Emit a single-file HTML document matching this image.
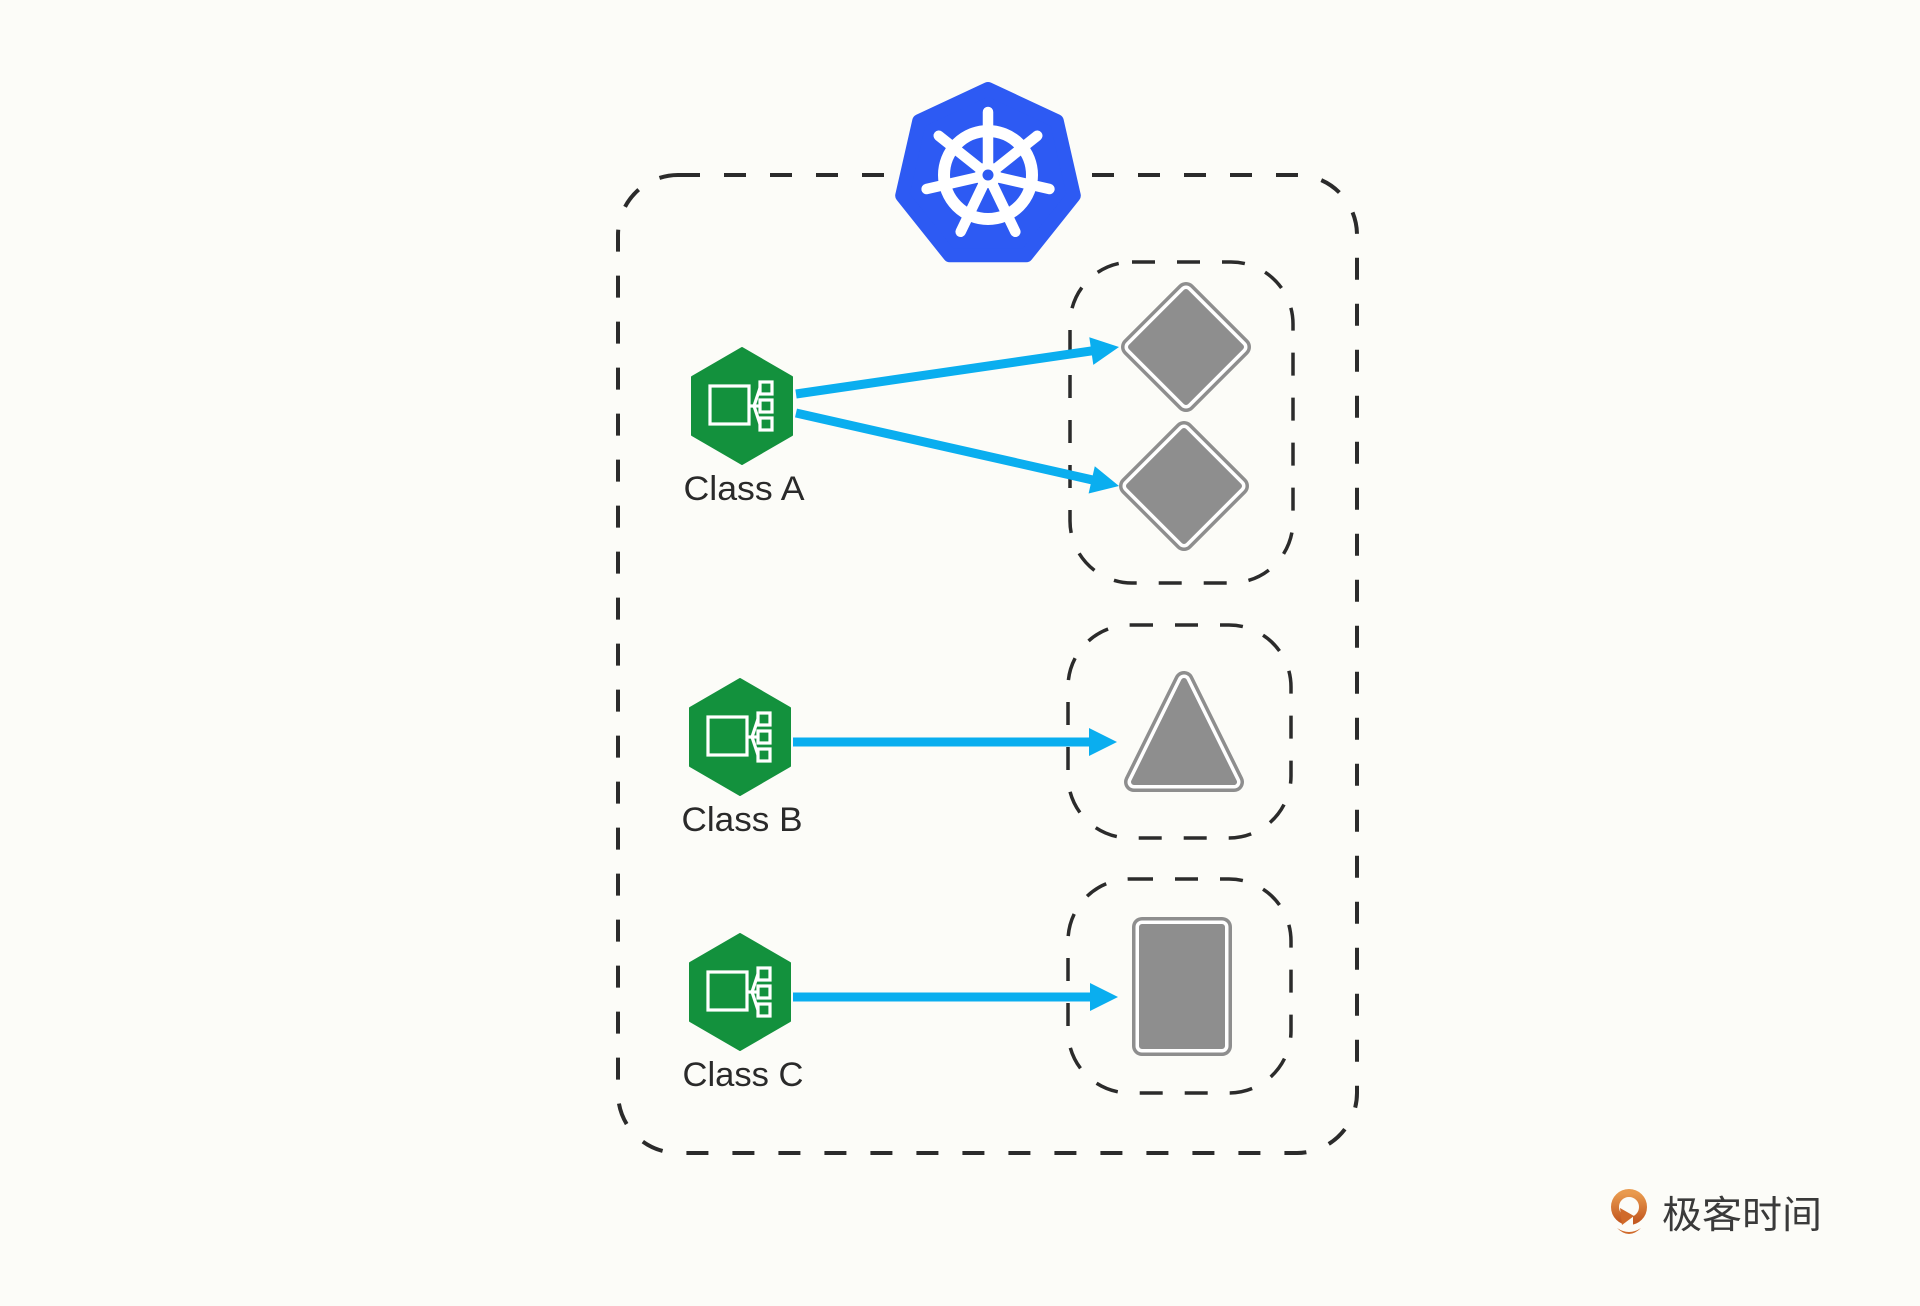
<!DOCTYPE html>
<html>
<head>
<meta charset="utf-8">
<style>
  html,body{margin:0;padding:0;background:#fcfcf8;}
  svg{display:block;}
</style>
</head>
<body>
<svg width="1920" height="1306" viewBox="0 0 1920 1306" xmlns="http://www.w3.org/2000/svg">
  <defs>
    <linearGradient id="og" x1="0" y1="0" x2="0" y2="1">
      <stop offset="0" stop-color="#e99a4e"/>
      <stop offset="1" stop-color="#c45a22"/>
    </linearGradient>
    <g id="hexicon">
      <polygon points="0,-58 50,-29 50,29 0,58 -50,29 -50,-29" fill="#13913d" stroke="#13913d" stroke-width="2" stroke-linejoin="round"/>
      <g fill="none" stroke="#ffffff" stroke-width="3.2">
        <rect x="-32" y="-20" width="39" height="38"/>
        <rect x="18" y="-24" width="12" height="12"/>
        <rect x="18" y="-6" width="12" height="12"/>
        <rect x="18" y="12" width="12" height="12"/>
        <polyline points="7,0 12,0 18,-18"/>
        <line x1="12" y1="0" x2="18" y2="0"/>
        <polyline points="12,0 18,18"/>
      </g>
    </g>
  </defs>
  <rect width="1920" height="1306" fill="#fcfcf8"/>

  <!-- outer dashed box -->
  <rect x="618" y="175" width="739" height="978" rx="60" ry="60" fill="none" stroke="#2b2b2b" stroke-width="4" stroke-dasharray="22 24"/>

  <!-- inner dashed boxes -->
  <rect x="1070" y="262" width="223" height="321" rx="62" ry="62" fill="none" stroke="#2b2b2b" stroke-width="3.5" stroke-dasharray="23 22"/>
  <rect x="1068" y="625" width="223" height="213" rx="62" ry="62" fill="none" stroke="#2b2b2b" stroke-width="3.5" stroke-dasharray="23 22"/>
  <rect x="1068" y="879" width="223" height="214" rx="62" ry="62" fill="none" stroke="#2b2b2b" stroke-width="3.5" stroke-dasharray="23 22"/>

  <!-- Kubernetes logo -->
  <polygon points="988,89 1056.8,121.1 1073.8,195.6 1026.2,255.3 949.8,255.3 902.2,195.6 919.2,121.1" fill="#2d5af3" stroke="#2d5af3" stroke-width="14" stroke-linejoin="round"/>
  <g transform="translate(988,175)">
    <circle cx="0" cy="0" r="44" fill="none" stroke="#ffffff" stroke-width="12"/>
    <g stroke="#ffffff" stroke-width="10.5" stroke-linecap="round">
      <line x1="0" y1="-8" x2="0" y2="-63" transform="rotate(0)"/>
      <line x1="0" y1="-8" x2="0" y2="-63" transform="rotate(51.43)"/>
      <line x1="0" y1="-8" x2="0" y2="-63" transform="rotate(102.86)"/>
      <line x1="0" y1="-8" x2="0" y2="-63" transform="rotate(154.29)"/>
      <line x1="0" y1="-8" x2="0" y2="-63" transform="rotate(205.71)"/>
      <line x1="0" y1="-8" x2="0" y2="-63" transform="rotate(257.14)"/>
      <line x1="0" y1="-8" x2="0" y2="-63" transform="rotate(308.57)"/>
    </g>
    <circle cx="0" cy="0" r="13" fill="#ffffff"/>
    <circle cx="0" cy="0" r="5.5" fill="#2d5af3"/>
  </g>

  <!-- Green hexagon icons -->
  <use href="#hexicon" transform="translate(742,406)"/>
  <use href="#hexicon" transform="translate(740,737)"/>
  <use href="#hexicon" transform="translate(740,992)"/>

  <!-- Labels -->
  <g font-family="Liberation Sans, Arial, sans-serif" font-size="34" fill="#2a2a2a" text-anchor="middle">
    <text x="744" y="500" textLength="121" lengthAdjust="spacingAndGlyphs">Class A</text>
    <text x="742" y="831" textLength="121" lengthAdjust="spacingAndGlyphs">Class B</text>
    <text x="743" y="1086" textLength="121" lengthAdjust="spacingAndGlyphs">Class C</text>
  </g>

  <!-- Arrows -->
  <g stroke="#0aaeef" stroke-width="9" stroke-linecap="butt">
    <line x1="796" y1="394" x2="1094" y2="350.6"/>
    <line x1="796" y1="413" x2="1094" y2="480.3"/>
    <line x1="793" y1="742" x2="1094" y2="742"/>
    <line x1="793" y1="997" x2="1094" y2="997"/>
  </g>
  <g fill="#0aaeef">
    <polygon points="1119,347 1093.3,364.9 1089.3,337.2"/>
    <polygon points="1119,486 1088.6,493.5 1094.8,466.2"/>
    <polygon points="1117,742 1089,728 1089,756"/>
    <polygon points="1118,997 1090,983 1090,1011"/>
  </g>

  <!-- Gray shapes (double outline) -->
  <g stroke-linejoin="round">
    <!-- diamond 1 -->
    <polygon points="1186,292 1241,347 1186,402 1131,347" fill="#8e8e8e" stroke="#8e8e8e" stroke-width="20"/>
    <polygon points="1186,292 1241,347 1186,402 1131,347" fill="#8e8e8e" stroke="#ffffff" stroke-width="13"/>
    <polygon points="1186,292 1241,347 1186,402 1131,347" fill="#8e8e8e" stroke="#8e8e8e" stroke-width="6"/>
    <!-- diamond 2 -->
    <polygon points="1184,431 1239,486 1184,541 1129,486" fill="#8e8e8e" stroke="#8e8e8e" stroke-width="20"/>
    <polygon points="1184,431 1239,486 1184,541 1129,486" fill="#8e8e8e" stroke="#ffffff" stroke-width="13"/>
    <polygon points="1184,431 1239,486 1184,541 1129,486" fill="#8e8e8e" stroke="#8e8e8e" stroke-width="6"/>
    <!-- triangle -->
    <polygon points="1184,681 1234,782 1134,782" fill="#8e8e8e" stroke="#8e8e8e" stroke-width="20"/>
    <polygon points="1184,681 1234,782 1134,782" fill="#8e8e8e" stroke="#ffffff" stroke-width="13"/>
    <polygon points="1184,681 1234,782 1134,782" fill="#8e8e8e" stroke="#8e8e8e" stroke-width="6"/>
    <!-- rectangle -->
    <rect x="1142" y="927" width="80" height="119" fill="#8e8e8e" stroke="#8e8e8e" stroke-width="20"/>
    <rect x="1142" y="927" width="80" height="119" fill="#8e8e8e" stroke="#ffffff" stroke-width="13"/>
    <rect x="1142" y="927" width="80" height="119" fill="#8e8e8e" stroke="#8e8e8e" stroke-width="6"/>
  </g>

  <!-- Bottom-right brand -->
  <g>
    <circle cx="1629" cy="1207" r="14" fill="none" stroke="url(#og)" stroke-width="8"/>
    <rect x="1623" y="1214" width="10" height="14" fill="#fcfcf8"/>
    <polygon points="1622,1225 1620,1208 1634,1216" fill="#d06a2a"/>
    <path d="M1617,1228 Q1629,1236 1641,1228 Q1629,1240 1617,1228 Z" fill="#d06a2a"/>
    <text x="1662" y="1228" font-family="Liberation Sans, Noto Sans CJK SC, sans-serif" font-size="38" fill="#3a3a3a" textLength="160" lengthAdjust="spacingAndGlyphs">极客时间</text>
  </g>
</svg>
</body>
</html>
